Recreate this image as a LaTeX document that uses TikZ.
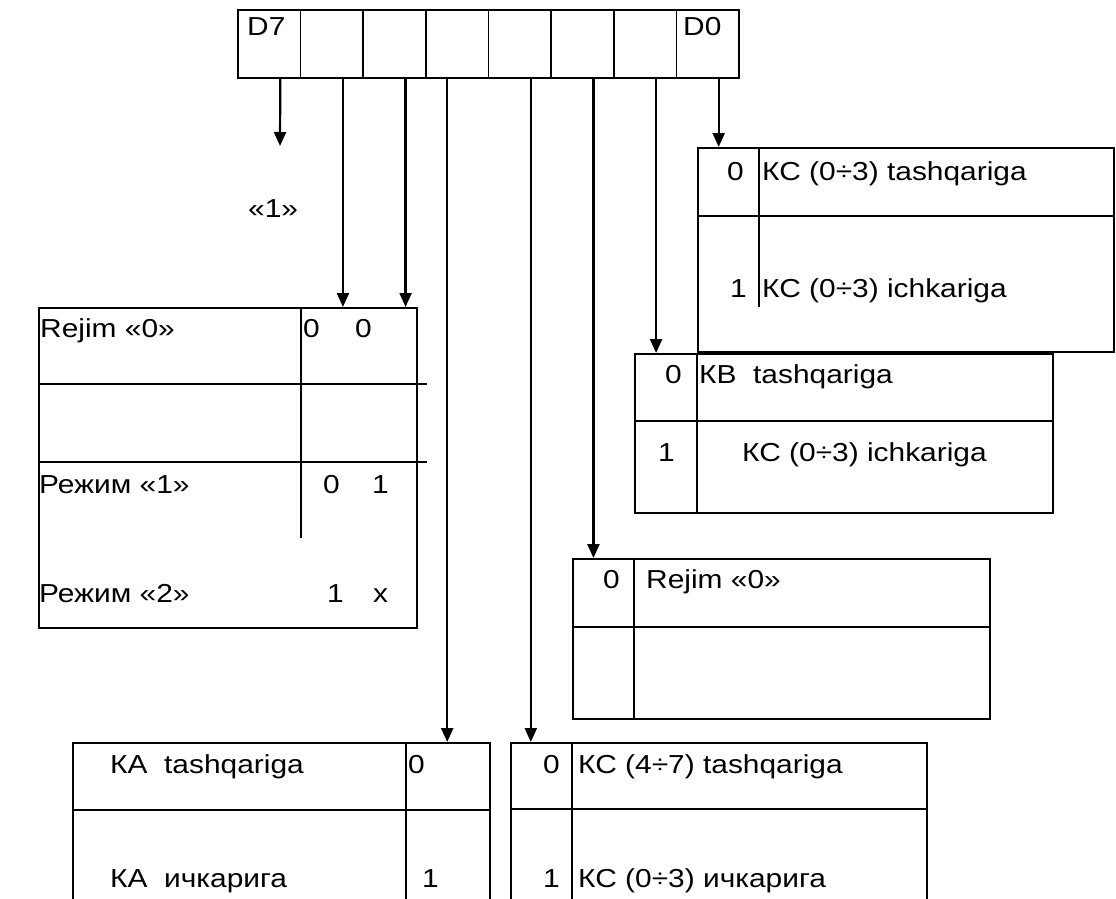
\documentclass[tikz,border=0pt]{standalone}
\usepackage{fontspec}
\setmainfont{Liberation Sans}[FakeStretch=1.15]
\usetikzlibrary{arrows.meta}
\usetikzlibrary{positioning}

\begin{document}
\begin{tikzpicture}[x=1pt, y=-1pt,
    cell/.style={draw, line width=1.7pt, inner sep=0pt, minimum width=62.625pt, minimum height=68pt},
    box/.style={draw, line width=1.7pt, inner sep=0pt, anchor=north west},
    rule/.style={line width=1.7pt},
    txt/.style={anchor=base west, inner sep=0pt, font=\fontsize{26}{30}\selectfont},
    arr/.style={line width=2.2pt, -{Triangle[length=14pt, width=12pt]}}]
  \useasboundingbox (0,0) rectangle (1116,899);
  \clip (0,0) rectangle (1116,899);

  \foreach \i in {0,...,7}
    \node[cell] (c\i) at ({238+(7.5-\i)*62.625}, 44) {};
  \node[txt] (d7) at (247,36) {D7};
  \node[txt] (d0) at (683,36) {D0};

  \node[box, minimum width=416pt, minimum height=204pt] (kc) at (697,147) {};
  \node[box, minimum width=418pt, minimum height=159pt] (kb) at (634,353) {};
  \node[box, minimum width=378pt, minimum height=320pt] (rej) at (38,307) {};
  \node[box, minimum width=417pt, minimum height=160pt] (mode) at (572,558) {};
  \node[box, minimum width=417pt, minimum height=175pt] (ka) at (72,742) {};
  \node[box, minimum width=416pt, minimum height=175pt] (kcb) at (510,742) {};

  \draw[rule] (697,216) -- (1113,216);
  \draw[rule] (759,147) -- (759,307);
  \draw[rule] (634,421) -- (1052,421);
  \draw[rule] (697,353) -- (697,512);
  \draw[rule] (38,384) -- (427,384);
  \draw[rule] (38,462) -- (427,462);
  \draw[rule] (301,307) -- (301,538);
  \draw[rule] (572,627) -- (989,627);
  \draw[rule] (634,558) -- (634,718);
  \draw[rule] (72,810) -- (489,810);
  \draw[rule] (406,742) -- (406,899);
  \draw[rule] (510,809) -- (926,809);
  \draw[rule] (572,742) -- (572,899);

  \foreach \i/\dx in {7/11,6/11,5/11,4/-10,3/11,2/11,1/11,0/11}
    \coordinate (p\i) at ([xshift=\dx pt]c\i.south);
  \coordinate (one) at (280,146);
  \draw[arr] (p7) -- (one);
  \draw[arr] (p6) -- (p6 |- rej.north);
  \draw[arr] (p5) -- (p5 |- rej.north);
  \draw[arr] (p4) -- (p4 |- ka.north);
  \draw[arr] (p3) -- (p3 |- kcb.north);
  \draw[arr] (p2) -- (p2 |- mode.north);
  \draw[arr] (p1) -- (p1 |- kb.north);
  \draw[arr] (p0) -- (p0 |- kc.north);

  \node[txt] (q1) at (248,217) {«1»};

  \node[txt] (kc0) at (727,180) {0};
  \node[txt] (kct) at (762,180) {КС (0÷3) tashqariga};
  \node[txt] (kc1) at (730,297) {1};
  \node[txt] (kci) at (762,297) {КС (0÷3) ichkariga};

  \node[txt] (kb0) at (665,383) {0};
  \node[txt] (kbt) at (699,383) {КВ\ \ tashqariga};
  \node[txt] (kb1) at (658,461) {1};
  \node[txt] (kbi) at (742,461) {КС (0÷3) ichkariga};

  \node[txt] (r0) at (40,337) {Rejim «0»};
  \node[txt] (r0a) at (303,337) {0};
  \node[txt] (r0b) at (355,337) {0};
  \node[txt] (r1) at (39,493) {Режим «1»};
  \node[txt] (r1a) at (323,493) {0};
  \node[txt] (r1b) at (372,493) {1};
  \node[txt] (r2) at (39,602) {Режим «2»};
  \node[txt] (r2a) at (327,602) {1};
  \node[txt] (r2b) at (373,602) {x};

  \node[txt] (m0) at (603,588) {0};
  \node[txt] (mr) at (646,588) {Rejim «0»};

  \node[txt] (kat) at (110,773) {КА\ \ tashqariga};
  \node[txt] (ka0) at (408,773) {0};
  \node[txt] (kai) at (110,887) {КА\ \ ичкарига};
  \node[txt] (ka1) at (422,887) {1};

  \node[txt] (kcb0) at (543,773) {0};
  \node[txt] (kcbt) at (578,773) {КС (4÷7) tashqariga};
  \node[txt] (kcb1) at (543,887) {1};
  \node[txt] (kcbi) at (578,887) {КС (0÷3) ичкарига};
\end{tikzpicture}
\end{document}
